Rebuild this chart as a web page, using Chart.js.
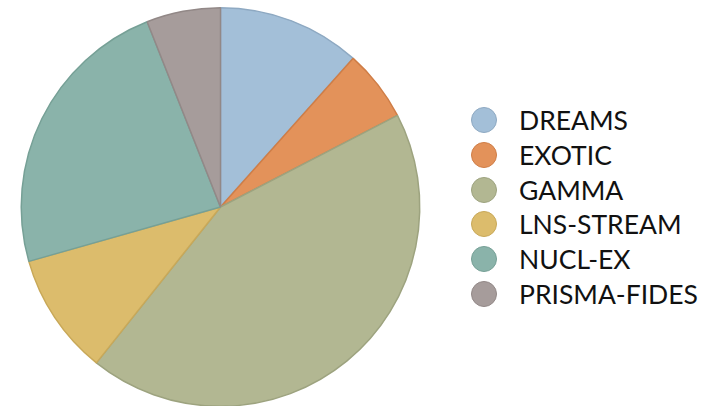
<!DOCTYPE html>
<html lang="en">
<head>
    <meta charset="UTF-8">
    <title>Experiments Pie</title>
    <script src="https://cdn.jsdelivr.net/npm/chart.js"></script>
    <style>
        body {
            margin: 0;
            background: #fff;
            font-family: 'Lato', sans-serif;
        }
        .wrap {
            position: relative;
            width: 713px;
            height: 406px;
            overflow: hidden;
        }
        .chart-box {
            position: absolute;
            left: 0;
            top: 0;
            width: 441px;
            height: 414px;
        }
        .legend {
            position: absolute;
            left: 0;
            top: 0;
            margin: 0;
            padding: 0;
            list-style: none;
        }
        .legend li {
            position: absolute;
            display: flex;
            align-items: center;
            height: 34px;
            transform: translateY(-50%);
            white-space: nowrap;
        }
        .legend .dot {
            width: 24px;
            height: 24px;
            border-radius: 50%;
            border: 1.5px solid;
            margin-right: 22px;
        }
        .legend span.txt {
            font-size: 26.5px;
            color: #111;
        }
    </style>
</head>
<body>
<div class="wrap">
    <div class="chart-box"><canvas id="pie"></canvas></div>
    <ul class="legend" id="legend"></ul>
</div>

<script>
    // Share of beam time per experiment (%)
    const labels = ['DREAMS', 'EXOTIC', 'GAMMA', 'LNS-STREAM', 'NUCL-EX', 'PRISMA-FIDES'];
    const shares = [11.6, 5.8, 43.3, 9.9, 23.4, 6.0];
    const fills = ['#a3bfd8', '#e3925a', '#b2b792', '#dcbc6c', '#8ab3aa', '#a69c9b'];
    const edges = ['#8ea9c2', '#cf7d46', '#9da37f', '#c8a858', '#76a096', '#928887'];

    new Chart(document.getElementById('pie'), {
        type: 'pie',
        data: {
            labels: labels,
            datasets: [{
                data: shares,
                backgroundColor: fills,
                borderColor: edges,
                borderWidth: 1.5
            }]
        },
        options: {
            responsive: true,
            maintainAspectRatio: false,
            animation: false,
            layout: { padding: { top: 7, bottom: 7, left: 20, right: 20 } },
            plugins: {
                legend: { display: false },
                tooltip: { enabled: false }
            }
        }
    });

    // legend on the right, one row per experiment
    const legend = document.getElementById('legend');
    labels.forEach((name, i) => {
        const li = document.createElement('li');
        li.style.left = '471px';
        li.style.top = (120 + i * 34.75) + 'px';
        const dot = document.createElement('span');
        dot.className = 'dot';
        dot.style.background = fills[i];
        dot.style.borderColor = edges[i];
        const txt = document.createElement('span');
        txt.className = 'txt';
        txt.textContent = name;
        li.appendChild(dot);
        li.appendChild(txt);
        legend.appendChild(li);
    });
</script>
</body>
</html>
